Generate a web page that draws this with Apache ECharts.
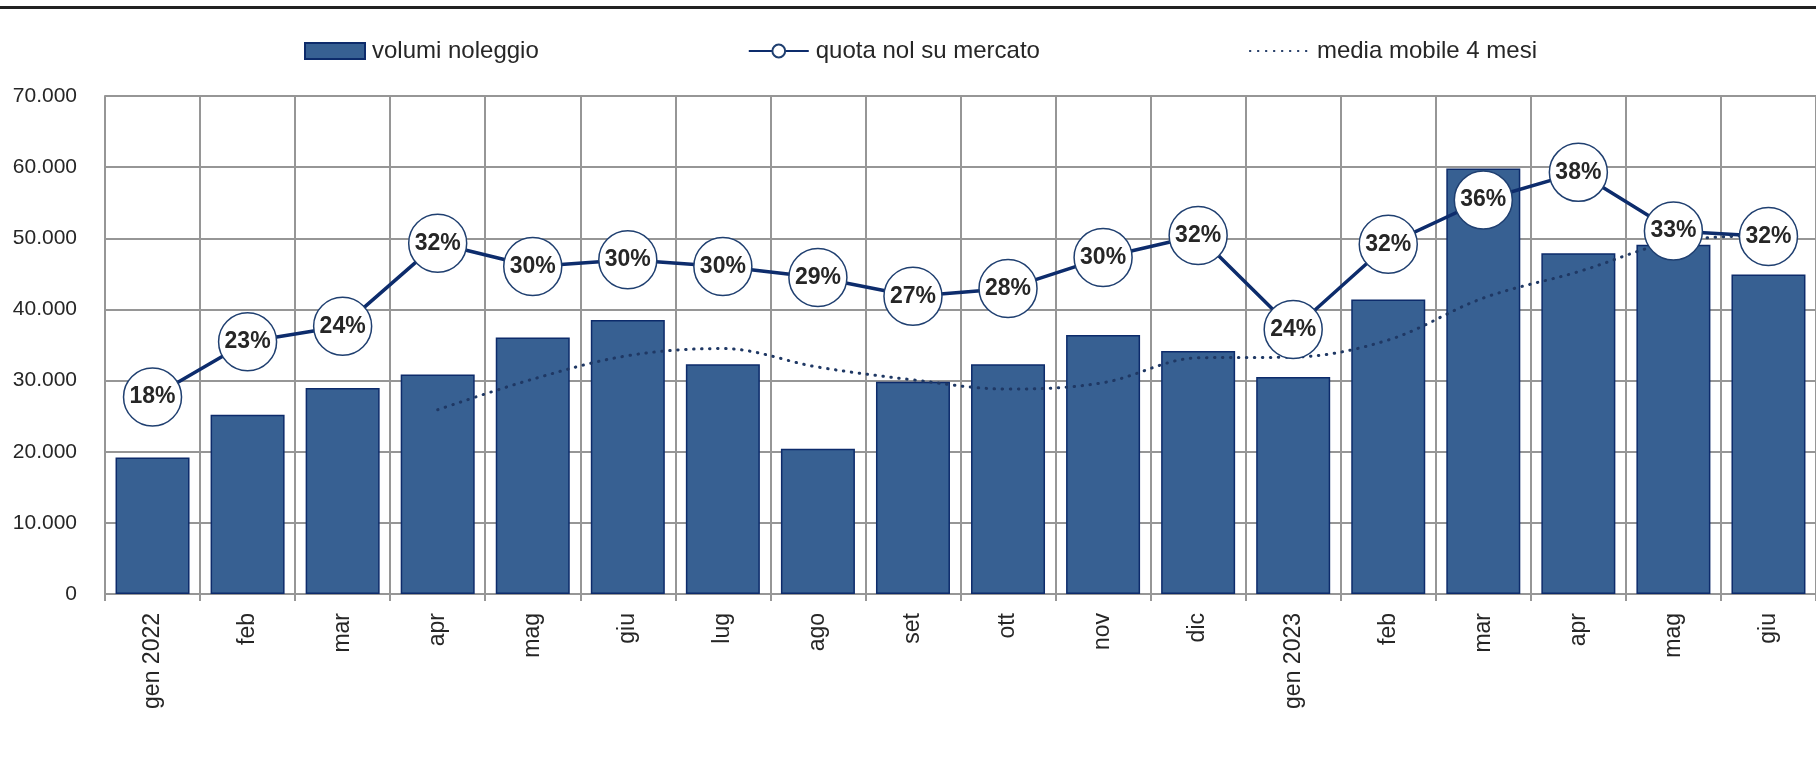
<!DOCTYPE html>
<html>
<head>
<meta charset="utf-8">
<script src="https://cdn.jsdelivr.net/npm/echarts@6/dist/echarts.min.js"></script>
<style>
  html, body { margin: 0; padding: 0; background: #fff; }
  #chart { width: 1816px; height: 757px; }
</style>
</head>
<body>
<div id="chart"></div>
<script>
// mesi (asse categorie)
const mesi = ['gen 2022', 'feb', 'mar', 'apr', 'mag', 'giu', 'lug', 'ago', 'set', 'ott', 'nov', 'dic',
  'gen 2023', 'feb', 'mar', 'apr', 'mag', 'giu'];

// volumi noleggio (barre)
const volumi = [19200, 25200, 28950, 30850, 36050, 38500, 32300, 20400, 29850, 32300, 36400, 34150,
  30500, 41400, 59800, 47900, 49100, 44900];

// quota noleggio su mercato, % (asse secondario nascosto)
const quota = [17.8, 22.8, 24.2, 31.7, 29.6, 30.2, 29.6, 28.6, 26.9, 27.6, 30.4, 32.4,
  23.9, 31.6, 35.6, 38.1, 32.8, 32.3];

// media mobile 4 mesi
const mediaMobile = [null, null, null, 25900, 30200, 33500, 34500, 31900, 30100, 28800, 29700, 33200,
  33300, 35700, 41600, 45300, 49500, 50400];

const yTicks = { min: 0, max: 70000, step: 10000 };

const font = "'Liberation Sans', Arial, sans-serif";
const gridColor = '#969696';
const testo = '#262626';

const fmtMigliaia = (v) => String(v).replace(/\B(?=(\d{3})+(?!\d))/g, '.');

const chart = echarts.init(document.getElementById('chart'));

chart.setOption({
  animation: false,
  textStyle: { fontFamily: font },
  graphic: [
    { type: 'rect', shape: { x: 0, y: 6, width: 1816, height: 3 }, style: { fill: '#222' } }
  ],
  legend: {
    left: 299,
    top: 34,
    itemGap: 209,
    itemWidth: 60,
    itemHeight: 16,
    textStyle: { fontSize: 24, color: testo, fontFamily: font, padding: [0, 0, 0, 2] },
    data: [
      { name: 'volumi noleggio', icon: 'rect', itemStyle: { borderWidth: 2 } },
      'quota nol su mercato',
      { name: 'media mobile 4 mesi', itemStyle: { opacity: 0 } }
    ]
  },
  grid: { left: 105, top: 96, width: 1714, bottom: 163, containLabel: false },
  xAxis: {
    type: 'category',
    data: mesi,
    axisLine: { lineStyle: { color: gridColor, width: 2 } },
    axisTick: { show: true, length: 7, lineStyle: { color: gridColor, width: 2 } },
    axisLabel: { rotate: 90, margin: 19, fontSize: 23, color: testo, fontFamily: font },
    splitLine: { show: true, lineStyle: { color: gridColor, width: 2 } }
  },
  yAxis: [
    {
      type: 'value',
      min: yTicks.min,
      max: yTicks.max,
      interval: yTicks.step,
      axisLine: { show: true, lineStyle: { color: gridColor, width: 2 } },
      axisTick: { show: false },
      axisLabel: { fontSize: 21, color: testo, margin: 28, formatter: fmtMigliaia, fontFamily: font },
      splitLine: { lineStyle: { color: gridColor, width: 2 } }
    },
    { type: 'value', min: 0, max: 45, show: false, splitLine: { show: false } }
  ],
  series: [
    {
      name: 'volumi noleggio',
      type: 'bar',
      data: volumi,
      barWidth: 74,
      itemStyle: { color: '#376092', borderColor: '#0D2B6B', borderWidth: 1.5 }
    },
    {
      name: 'quota nol su mercato',
      type: 'line',
      yAxisIndex: 1,
      data: quota,
      symbol: 'circle',
      symbolSize: 58,
      lineStyle: { color: '#0D2C6C', width: 3.5 },
      itemStyle: { color: '#ffffff', borderColor: '#1F3F70', borderWidth: 1.5 },
      label: {
        show: true,
        position: 'inside',
        formatter: (p) => Math.round(p.value) + '%',
        fontSize: 23,
        fontWeight: 'bold',
        color: testo,
        fontFamily: font
      }
    },
    {
      name: 'media mobile 4 mesi',
      type: 'line',
      data: mediaMobile,
      symbol: 'none',
      smooth: 0.35,
      itemStyle: { color: '#1F3864' },
      lineStyle: { color: '#1F3864', width: 3, type: [0.5, 7.5], cap: 'round' }
    }
  ]
});
</script>
</body>
</html>
